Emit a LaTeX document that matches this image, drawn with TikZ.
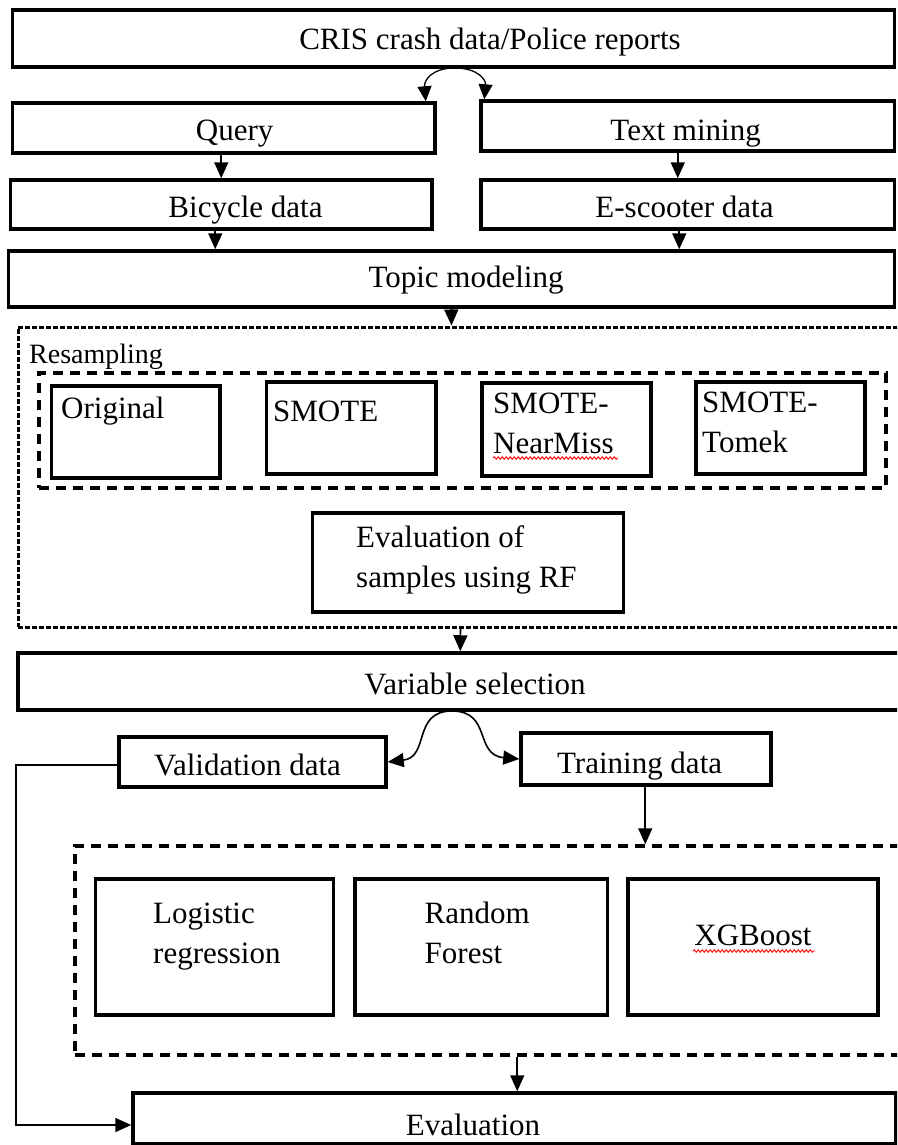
\documentclass[tikz,border=0pt]{standalone}
\usepackage{fontspec}
\setmainfont{Liberation Serif}
\usetikzlibrary{arrows.meta,decorations.pathmorphing}
\begin{document}
\begin{tikzpicture}[x=1pt,y=-1pt,
  box/.style={draw,line width=3.5pt,inner sep=0pt,minimum width=#1},
  dbox/.style={draw,line width=3.5pt,dash pattern=on 10pt off 7pt,inner sep=0pt,minimum width=#1},
  obox/.style={draw,line width=3pt,dash pattern=on 5pt off 2pt,inner sep=0pt,minimum width=#1},
  txt/.style={inner sep=0pt,anchor=base,font=\fontsize{31pt}{40pt}\selectfont},
  ltxt/.style={inner sep=0pt,anchor=base west,align=left,font=\fontsize{31pt}{40pt}\selectfont},
  arr/.style={line width=1.6pt,-{Triangle[length=16pt,width=14pt]}},
  squig/.style={red,line width=0.9pt,decorate,decoration={snake,amplitude=1.2pt,segment length=4pt}}
]
\useasboundingbox (0,0) rectangle (897,1145);
\clip (0,0) rectangle (897,1145);
\fill[white] (0,0) rectangle (897,1145);

% top part
\node[box=882pt,minimum height=57pt] (cris) at (453.5,38.5) {};
\node[txt] (crist) at (490,50) {CRIS crash data/Police reports};
\node[box=422.5pt,minimum height=50pt] (query) at (223.75,128) {};
\node[txt] (queryt) at (234.6,140.5) {Query};
\node[box=413.5pt,minimum height=50pt] (textm) at (687.75,126) {};
\node[txt] (textmt) at (685.6,140.5) {Text mining};
\node[box=421.5pt,minimum height=49pt] (bike) at (221.25,204.5) {};
\node[txt] (biket) at (245.5,217) {Bicycle data};
\node[box=413.5pt,minimum height=49pt] (escoot) at (687.75,204.5) {};
\node[txt] (escoott) at (684.5,217) {E-scooter data};
\node[box=886pt,minimum height=56pt] (topic) at (451.5,279) {};
\node[txt] (topict) at (466,287) {Topic modeling};

% resampling
\node[obox=892pt,minimum height=300pt] (resamp) at (464,477) {};
\node[inner sep=0pt,anchor=base west,font=\fontsize{28pt}{34pt}\selectfont] (resampt) at (29,363) {Resampling};
\node[dbox=847pt,minimum height=115pt] (inner) at (462.5,430.5) {};
\node[box=168.5pt,minimum height=92pt] (orig) at (135.75,432) {};
\node[ltxt] (origt) at (61,418) {Original};
\node[box=169.5pt,minimum height=92pt] (smote) at (351.25,428) {};
\node[ltxt] (smotet) at (273,421) {SMOTE};
\node[box=169pt,minimum height=93pt] (nearmiss) at (566.5,429.5) {};
\node[ltxt] (nearmisst) at (493,453) {SMOTE-\\NearMiss};
\node[box=169pt,minimum height=92pt] (tomek) at (780.5,428) {};
\node[ltxt] (tomekt) at (702,452) {SMOTE-\\Tomek};
\node[box=311pt,minimum height=99pt] (evalrf) at (468,562.5) {};
\node[ltxt] (evalrft) at (356,587) {Evaluation of\\samples using RF};

% variable selection and split
\node[box=892pt,minimum height=57pt] (varsel) at (464,681.5) {};
\node[txt] (varselt) at (475,694) {Variable selection};
\node[box=267pt,minimum height=50pt] (valid) at (252.5,762) {};
\node[txt] (validt) at (247.5,775) {Validation data};
\node[box=250pt,minimum height=52pt] (train) at (646,759) {};
\node[txt] (traint) at (639.6,773) {Training data};

% models
\node[dbox=835pt,minimum height=209pt] (models) at (492.5,950.5) {};
\node[box=238pt,minimum height=136pt] (logit) at (214.5,947) {};
\node[ltxt] (logitt) at (153,963) {Logistic\\regression};
\node[box=252.5pt,minimum height=136pt] (rf) at (481.25,947) {};
\node[ltxt] (rft) at (424.5,963) {Random\\Forest};
\node[box=250pt,minimum height=136pt] (xgb) at (753,947) {};
\node[txt] (xgbt) at (753,945) {XGBoost};
\node[box=763pt,minimum height=51pt] (eval) at (514.5,1118.5) {};
\node[txt] (evalt) at (473,1135) {Evaluation};

% spell-check squiggles
\draw[squig] (493,458) -- (618,458);
\draw[squig] (693,951) -- (815,951);

% connectors
\coordinate (s1) at (455,68);
\draw[line width=1.3pt,-{Triangle[length=15pt,width=14pt]}] (s1) .. controls (432,68) and (424,80) .. ([xshift=-11pt]query.north east);
\draw[line width=1.3pt,-{Triangle[length=15pt,width=14pt]}] (s1) .. controls (478,68) and (486,80) .. ([xshift=5pt]textm.north west);
\draw[arr] (query.south -| bike.north) -- (bike.north);
\draw[arr] ([xshift=198.5pt]textm.south west) -- ([xshift=198.5pt]escoot.north west);
\draw[arr] ([xshift=206.5pt]bike.south west) -- ([xshift=208.5pt]topic.north west);
\draw[arr] ([xshift=200pt]escoot.south west) -- ([xshift=672.5pt]topic.north west);
\draw[arr] ([xshift=444.5pt]topic.south west) -- ([xshift=435pt]resamp.north west);
\draw[arr] ([xshift=444pt]resamp.south west) -- ([xshift=444pt]varsel.north west);
\coordinate (s2) at (452,711);
\draw[arr] (s2) .. controls (412,711) and (430,757) .. (valid.east);
\draw[arr] (s2) .. controls (492,711) and (474,755) .. (train.west);
\draw[arr] ([xshift=126pt]train.south west) -- ([xshift=572pt]models.north west);
\draw[arr] ([xshift=444pt]models.south west) -- ([xshift=386pt]eval.north west);
\draw[arr] ([yshift=-3pt]valid.west) -- ++(-101,0) |- ([yshift=-6.5pt]eval.west);
\end{tikzpicture}
\end{document}
